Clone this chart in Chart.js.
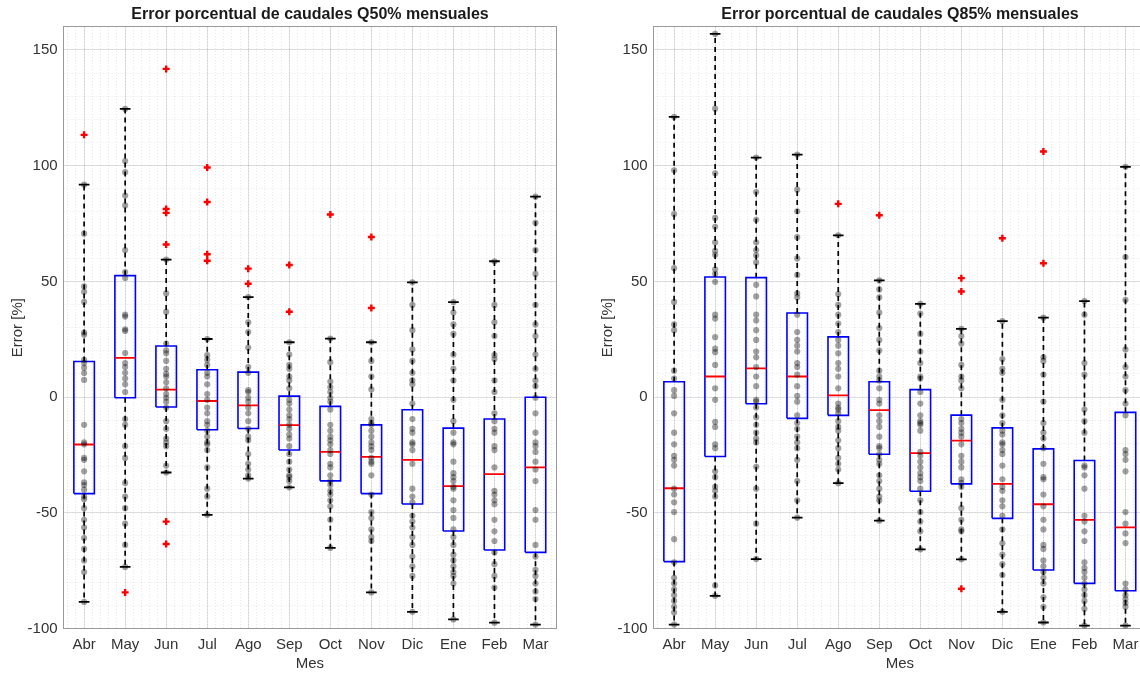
<!DOCTYPE html>
<html>
<head>
<meta charset="utf-8">
<script src="https://cdn.jsdelivr.net/npm/chart.js@4"></script>
<style>
  html, body { margin: 0; padding: 0; background: #fff; overflow: hidden; width: 1140px; height: 673px; }
  canvas { position: absolute; top: 0; }
  #q50 { left: 0; }
  #q85 { left: 590px; }
</style>
</head>
<body>
<canvas id="q50" width="620" height="673"></canvas>
<canvas id="q85" width="620" height="673"></canvas>
<script>
const months = ['Abr', 'May', 'Jun', 'Jul', 'Ago', 'Sep', 'Oct', 'Nov', 'Dic', 'Ene', 'Feb', 'Mar']
const yTicks = [-100, -50, 0, 50, 100, 150]

// Q50 box statistics
const q50Low = [-88.5, -73.4, -32.6, -50.9, -35.2, -39, -65.2, -84.4, -92.8, -96.1, -97.5, -98.3]
const q50Q1 = [-41.7, -0.3, -4.3, -14.1, -13.6, -22.9, -36.2, -41.7, -46.2, -57.9, -66.1, -67.1]
const q50Median = [-20.5, 16.9, 3.2, -1.7, -3.6, -12.1, -23.7, -25.8, -27.1, -38.5, -33.3, -30.4]
const q50Q3 = [15.4, 52.5, 22.1, 11.8, 10.8, 0.4, -4, -12, -5.5, -13.4, -9.5, -0.1]
const q50High = [91.8, 124.5, 59.4, 25.1, 43.2, 23.7, 25.3, 23.7, 49.6, 41, 58.7, 86.6]
const q50Outliers = [[113.3], [-84.4], [141.8, 81.3, 79.6, 65.9, -53.8, -63.5], [99.2, 84.3, 61.7, 58.9], [55.5, 49], [57.1, 36.9], [78.9], [69.2, 38.5], [], [], [], []]
const q50Points = [
  [91.8, 70.6, 47.8, 45.5, 41.1, 27.9, 26.9, 16.1, 14.7, 12.7, 10.4, 7.4, -12, -19.6, -20.4, -26.3, -27.1, -32.1, -36.8, -38, -40, -43, -44.1, -48, -53, -56.4, -60.9, -65.6, -70.6, -75.6, -88.5],
  [124.5, 102, 97.2, 87.1, 82.8, 63.5, 54, 51.5, 35.6, 34.8, 29.3, 28.6, 19, 14.7, 13, 10.5, 8, 5.5, 2.2, -9.5, -12, -21.2, -26.3, -37.1, -43, -48, -54.7, -63.9, -73.4],
  [59.4, 44.8, 36.8, 23.1, 20.2, 18.9, 15.6, 12.2, 10, 8.9, 6.4, 3.8, 1.3, -0.3, -2, -4.5, -10.4, -13.7, -17.9, -19.6, -21.2, -29.6, -32.6],
  [25.1, 18.1, 16.1, 13.9, 10.5, 8.9, 5.5, 1.3, -1.2, -4.5, -7, -10.4, -12, -14.5, -17.1, -19.6, -20.4, -22.9, -30.4, -39.6, -43, -50.9],
  [43.2, 32.3, 28.1, 21.4, 13, 10.5, 3, 2.2, -0.3, -2, -4.5, -7, -10.4, -13.7, -17.1, -18.7, -24.6, -28.8, -31.3, -33.8, -35.2],
  [23.7, 18.4, 13.9, 12.2, 8.9, 7.2, 3.8, -1.2, -2.8, -5.4, -7.9, -9.5, -12, -13.7, -16.2, -17.9, -21.2, -24.6, -27.9, -31.3, -33.8, -34.6, -36.3, -39],
  [25.3, 15.1, 6.7, 4.3, 2.2, -0.3, -2, -5.4, -12, -14.5, -17.1, -18.7, -20.4, -22.9, -24.6, -28.8, -30.4, -33.8, -36.3, -38, -40.5, -42.1, -44.6, -47.2, -53, -65.2],
  [23.7, 15.6, 8.9, 3.3, -9.5, -11.2, -12, -14.5, -17.1, -19.6, -21.2, -22.9, -26.3, -27.9, -28.8, -33.8, -42.1, -49.7, -52.2, -57.2, -60.5, -62.2, -84.4],
  [49.6, 39.8, 28.9, 20.6, 15.6, 10.5, 7.2, 5.5, -2.8, -9.5, -13.7, -15.4, -19.6, -20.4, -22.9, -28.8, -39.6, -43, -45.5, -51.3, -53.8, -56.4, -60.5, -63.9, -68.9, -73.1, -77.3, -92.8],
  [41, 36.5, 31.4, 27.3, 18.4, 12.2, 7.2, -1.2, -10.4, -15.4, -19.6, -20.4, -27.9, -32.9, -34.6, -36.3, -38.8, -39.6, -44.6, -48.8, -52.2, -57.2, -60.5, -63.9, -68.1, -70.6, -73.1, -75.6, -77.3, -80.6, -96.1],
  [58.7, 39.8, 32.3, 26.4, 18.1, 16.4, 7.2, 2.2, -7, -10.4, -13.7, -15.4, -21.2, -22.9, -30.4, -40.5, -42.1, -44.6, -46.3, -53, -58, -62.2, -67.2, -72.2, -77.3, -82.3, -97.5],
  [86.6, 75.3, 63.5, 53.2, 39.8, 31.4, 26.4, 18.4, 12.2, 7.2, 4.7, -0.3, -7, -15.4, -19.6, -21.2, -23.7, -27.9, -31.3, -36.3, -48.8, -53, -63.9, -68.9, -74.7, -77.3, -80.6, -84, -87.3, -98.3]
]

// Q85 box statistics
const q85Low = [-98.3, -85.9, -70, -52.1, -37.2, -53.4, -65.8, -70.1, -92.8, -97.4, -98.8, -98.8]
const q85Q1 = [-71.1, -25.7, -2.9, -9.2, -7.9, -24.7, -40.7, -37.5, -52.4, -74.7, -80.5, -83.7]
const q85Median = [-39.4, 8.9, 12.4, 8.9, 0.7, -5.6, -24.2, -18.8, -37.5, -46.3, -53.1, -56.3]
const q85Q3 = [6.6, 51.9, 51.6, 36.3, 26, 6.6, 3.2, -7.8, -13.3, -22.4, -27.4, -6.6]
const q85High = [121.1, 156.9, 103.5, 104.8, 69.9, 50.4, 40.3, 29.5, 32.8, 34.3, 41.5, 99.5]
const q85Outliers = [[], [], [], [], [83.5], [78.6], [], [51.4, 45.6, -82.8], [68.6], [106.1, 57.8], [], []]
const q85Points = [
  [121.1, 98, 79.1, 55.7, 41.1, 31.4, 28.9, 11.4, 8, 3, 0.5, -7, -15.4, -20.4, -25.4, -27.1, -29.6, -39.6, -42.1, -45.5, -49.7, -61.4, -71.4, -78.1, -80.6, -83.1, -85.6, -88.1, -90.6, -93.1, -98.3],
  [156.9, 124.6, 96.7, 77.4, 73.6, 66.9, 63.2, 61.5, 55.2, 53.2, 49.8, 35.6, 33.9, 25.9, 20.9, 19.4, 13.9, 3.8, -1.2, -10.7, -12.9, -20.4, -22.1, -32.1, -34.6, -38.8, -40.5, -43, -81.4, -85.9],
  [103.5, 88.6, 76.6, 66.9, 63.5, 61.2, 58.2, 48.5, 43.5, 35.6, 33.1, 28.9, 24.7, 19.7, 17.2, 13, 8.9, 4.7, -1.2, -2, -4.5, -8.7, -12, -15.4, -17.9, -19.6, -30.1, -39.6, -54.7, -70],
  [104.8, 89.6, 80.3, 69.1, 59.9, 52.8, 44.8, 43.1, 35.6, 28.1, 24.7, 22.2, 19.7, 14.7, 13, 9.7, 4.7, 0.5, -2, -7.9, -11.2, -13.7, -17.1, -19.6, -22.1, -27.1, -36.3, -44.6, -52.1],
  [69.9, 44.5, 39.8, 35.6, 31.8, 28.1, 24.7, 22.2, 18.9, 14.7, 12.2, 8.9, 3.8, -2.8, -4.5, -5.4, -7, -10.4, -12.9, -14.5, -18.7, -22.1, -26.3, -28.8, -31.3, -37.2],
  [50.4, 46.5, 43.1, 36.5, 29.8, 24.7, 20.1, 11.4, 8.9, 7.2, 3.8, -1.2, -2.8, -7.9, -10.4, -12.9, -17.1, -21.2, -22.1, -24.6, -27.1, -28.8, -33.8, -36.3, -39.6, -43, -44.6, -53.4],
  [40.3, 36.1, 27.3, 19.7, 14.7, 8.9, 8, 2.2, -2.8, -7.9, -10.4, -11.2, -12, -14.5, -23.7, -25.4, -27.9, -30.4, -32.9, -34.6, -36.3, -39.6, -44.6, -49.7, -53.8, -58, -65.8],
  [29.5, 26.4, 23.1, 13.9, 8.9, 7.2, 3.8, -9.5, -11.2, -13.7, -15.4, -17.1, -20.4, -25.4, -27.9, -30.4, -35.5, -37.1, -38.8, -48, -53, -57.2, -58, -70.1],
  [32.8, 16.4, 12.2, 10.5, -1.2, -7.9, -11.2, -14.5, -16.2, -19.6, -20.4, -22.9, -24.6, -29.6, -35.5, -38.8, -40.5, -44.6, -47.2, -51.3, -57.2, -63.2, -68.1, -72.2, -76.9, -92.8],
  [34.3, 17.2, 15.6, 9.7, -2, -11.2, -15.4, -17.9, -22.1, -28.8, -34.6, -35.5, -42.1, -47.2, -53, -57.2, -63.9, -65.6, -70.6, -73.1, -75.6, -78.1, -80.6, -86.5, -90.6, -97.4],
  [41.5, 35.6, 14.7, 9.7, -5.4, -10.4, -15.4, -29.6, -30.4, -33.8, -39.6, -51.3, -53.8, -58, -62.2, -71.4, -73.9, -75.6, -78.1, -80.6, -83.1, -85.6, -88.1, -91.5, -98.8],
  [99.5, 60.5, 42, 20.6, 13, 8.9, 3, -2.8, -7.9, -22.9, -24.6, -27.1, -32.1, -49.7, -54.7, -58.9, -63.1, -80.6, -83.1, -85.6, -87.3, -89, -90.6, -98.8]
]

Chart.defaults.font.family = '"Liberation Sans", Arial, Helvetica, sans-serif'
Chart.defaults.color = '#333'

const boxHalf = 0.25
const capHalf = 0.13
const majorGrid = 'rgba(0,0,0,0.11)'
const minorGrid = 'rgba(0,0,0,0.09)'
const axisColor = '#9a9a9a'

function valuesEvery (from, to, step) {
  const out = []
  for (let k = 0; from + k * step <= to + 1e-9; k++) out.push({ value: +(from + k * step).toFixed(2) })
  return out
}

function buildDatasets (low, q1, median, q3, high, outliers, points) {
  const dots = []
  const red = []
  const whiskers = []
  const caps = []
  const boxes = []
  const medians = []
  months.forEach((m, i) => {
    const x = i + 1
    points[i].forEach(v => dots.push({ x, y: v }))
    outliers[i].forEach(v => red.push({ x, y: v }))
    whiskers.push({ x, y: q3[i] }, { x, y: high[i] }, { x, y: null },
      { x, y: q1[i] }, { x, y: low[i] }, { x, y: null })
    caps.push({ x: x - capHalf, y: high[i] }, { x: x + capHalf, y: high[i] }, { x, y: null },
      { x: x - capHalf, y: low[i] }, { x: x + capHalf, y: low[i] }, { x, y: null })
    boxes.push({ x: x - boxHalf, y: q1[i] }, { x: x + boxHalf, y: q1[i] }, { x: x + boxHalf, y: q3[i] },
      { x: x - boxHalf, y: q3[i] }, { x: x - boxHalf, y: q1[i] }, { x, y: null })
    medians.push({ x: x - boxHalf, y: median[i] }, { x: x + boxHalf, y: median[i] }, { x, y: null })
  })
  const line = (data, color, width, dash) => ({
    data, showLine: true, borderColor: color, borderWidth: width, borderDash: dash || [],
    pointRadius: 0, spanGaps: false, fill: false
  })
  return [
    { data: dots, pointRadius: 3.1, pointBackgroundColor: 'rgba(0,0,0,0.37)', pointBorderWidth: 0, showLine: false },
    { data: red, pointStyle: 'cross', pointRadius: 3.5, pointBorderColor: '#ff0000', pointBorderWidth: 2.4, showLine: false },
    line(medians, '#ff0000', 1.8),
    line(boxes, '#0000ff', 1.6),
    line(caps, '#000000', 1.8),
    line(whiskers, '#000000', 1.7, [5, 4])
  ]
}

function makeChart (id, title, low, q1, median, q3, high, outliers, points) {
  new Chart(document.getElementById(id), {
    type: 'scatter',
    data: { datasets: buildDatasets(low, q1, median, q3, high, outliers, points) },
    options: {
      responsive: false,
      animation: false,
      events: [],
      layout: { padding: 0 },
      plugins: {
        legend: { display: false },
        tooltip: { enabled: false },
        title: {
          display: true,
          text: title,
          color: '#1a1a1a',
          font: { size: 16, weight: 'bold' },
          padding: { top: 4.5, bottom: 3.1 }
        }
      },
      scales: {
        x: {
          type: 'linear',
          position: 'bottom',
          min: 0.5,
          max: 12.5,
          afterBuildTicks: s => { s.ticks = months.map((m, i) => ({ value: i + 1 })) },
          ticks: { callback: v => months[v - 1], padding: 7, font: { size: 15 }, maxRotation: 0, autoSkip: false },
          grid: { color: majorGrid, drawTicks: false },
          border: { color: axisColor },
          title: { display: true, text: 'Mes', font: { size: 15 }, padding: { top: 0, bottom: 0 } },
          afterFit: s => { s.height = 44.5 }
        },
        xMinor: {
          type: 'linear',
          position: 'top',
          min: 0.5,
          max: 12.5,
          afterBuildTicks: s => { s.ticks = valuesEvery(0.6, 12.4, 0.2) },
          ticks: { display: false },
          grid: { color: minorGrid, drawTicks: false },
          border: { color: axisColor, dash: [1, 2] },
          afterFit: s => { s.height = 0 }
        },
        y: {
          type: 'linear',
          position: 'left',
          min: -100,
          max: 160,
          afterBuildTicks: s => { s.ticks = yTicks.map(v => ({ value: v })) },
          ticks: { padding: 6, font: { size: 15 } },
          grid: { color: majorGrid, drawTicks: false },
          border: { color: axisColor },
          title: { display: true, text: 'Error [%]', font: { size: 15 }, padding: { top: 9, bottom: 4 } },
          afterFit: s => { s.width = 63.6 }
        },
        yMinor: {
          type: 'linear',
          position: 'right',
          min: -100,
          max: 160,
          afterBuildTicks: s => { s.ticks = valuesEvery(-90, 160, 10) },
          ticks: { display: false },
          grid: { color: minorGrid, drawTicks: false },
          border: { color: axisColor, dash: [1, 2] },
          afterFit: s => { s.width = 64 }
        }
      }
    }
  })
}

makeChart('q50', 'Error porcentual de caudales Q50% mensuales',
  q50Low, q50Q1, q50Median, q50Q3, q50High, q50Outliers, q50Points)
makeChart('q85', 'Error porcentual de caudales Q85% mensuales',
  q85Low, q85Q1, q85Median, q85Q3, q85High, q85Outliers, q85Points)
</script>
</body>
</html>
